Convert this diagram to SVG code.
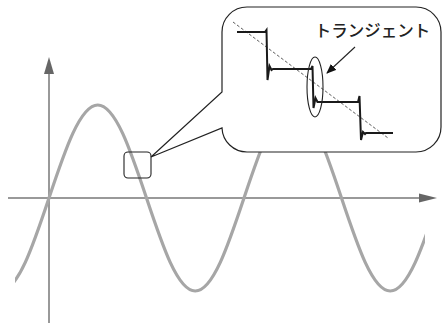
<svg xmlns="http://www.w3.org/2000/svg" width="442" height="327" viewBox="0 0 442 327">
<style>
.axis{stroke:#777;stroke-width:1.5;fill:none}
.axhead{fill:#666}
.wave{stroke:#a6a6a6;stroke-width:3.2;fill:none;stroke-linecap:round}
.ln{stroke:#222;stroke-width:1.1;fill:none}
.step{stroke:#1a1a1a;stroke-width:2;fill:none;stroke-linejoin:miter}
.lbl{font-family:"Noto Sans CJK JP","Noto Sans",sans-serif;font-size:16.5px;font-weight:500;fill:#222}
</style>
<defs>
<clipPath id="wclip"><rect x="15" y="0" width="410" height="327"/></clipPath>
<marker id="ah" markerWidth="10" markerHeight="8" refX="9" refY="4" orient="auto" markerUnits="userSpaceOnUse">
<path d="M0,0 L10,4 L0,8 Z" fill="#111"/>
</marker>
</defs>
<g id="axes">
<line class="axis" x1="49" y1="70" x2="49" y2="323"/>
<path class="axhead" d="M49,57 L44,74 L54,74 Z"/>
<line class="axis" x1="8" y1="198" x2="422" y2="198"/>
<path class="axhead" d="M437,198 L419,193.5 L419,202.5 Z"/>
</g>
<g id="sine">
<path class="wave" clip-path="url(#wclip)" d="M0.25,291 c17.64,0 32.85,-45.36 48.75,-93 c15.9,-47.64 31.11,-93 48.75,-93 c17.64,0 32.85,45.36 48.75,93 c15.9,47.64 31.11,93 48.75,93 c17.64,0 32.85,-45.36 48.75,-93 c15.9,-47.64 31.11,-93 48.75,-93 c17.64,0 32.85,45.36 48.75,93 c15.9,47.64 31.11,93 48.75,93 c17.64,0 32.85,-45.36 48.75,-93"/>
</g>
<g id="zoom-box">
<rect class="ln" x="124" y="152" width="27" height="26" rx="4"/>
</g>
<g id="callout">
<path d="M151,157 L222,92 V32 A25,25 0 0 1 247,7 H416 A25,25 0 0 1 441,32 V127 A25,25 0 0 1 416,152 H247 A25,25 0 0 1 222,128 Z" fill="#fff" stroke="#222" stroke-width="1.2"/>
<line x1="233" y1="22" x2="388" y2="138" stroke="#333" stroke-width="0.8" stroke-dasharray="3,2"/>
<path class="step" d="M237,32 H265 L266.5,30 L267.5,80 L269.5,66 L271.5,70 L273,69 H311 L312.5,66 L313.5,108 L315.5,98 L317.5,102 H358 L359.5,96 L361,140 L363,132 L365,134 L366,133 H393"/>
</g>
<g id="transient">
<ellipse class="ln" cx="315" cy="87" rx="8" ry="30"/>
<text class="lbl" x="372.5" y="37" text-anchor="middle">トランジェント</text>
</g>
<g id="connectors">
<line class="ln" x1="355" y1="47" x2="327" y2="73" marker-end="url(#ah)"/>
</g>
</svg>
